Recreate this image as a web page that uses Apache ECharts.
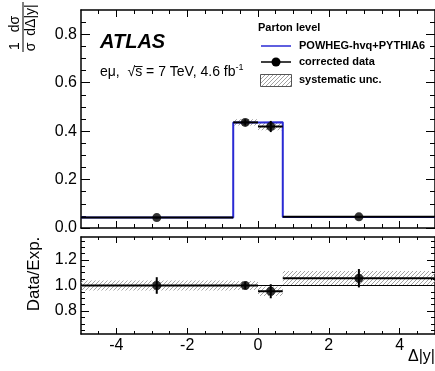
<!DOCTYPE html>
<html><head><meta charset="utf-8">
<script src="https://cdn.jsdelivr.net/npm/echarts@6/dist/echarts.min.js"></script>
<style>html,body{margin:0;padding:0;background:#fff}#c{width:435px;height:371px}</style>
</head><body><div id="c"></div>
<script>
// ---- data ----
const binEdges = [-5, -0.7, 0, 0.7, 5];
const mcValues = [0.043, 0.436, 0.437, 0.045];
const dataX = [-2.86, -0.36, 0.36, 2.85];
const dataValues = [0.043, 0.436, 0.419, 0.046];
const dataStatRel = [0.065, 0.03, 0.055, 0.072];
const dataSystRel = [0.04, 0.03, 0.037, 0.057];
const ratioValues = [1.00, 1.00, 0.955, 1.057];
const ratioStat = [0.065, 0.03, 0.055, 0.072];
const ratioSyst = [0.04, 0.035, 0.037, 0.057];
const ratioRef = 1.0;
// ---- ticks ----
const xMajorTicks = [-4, -2, 0, 2, 4];
const xMinorTicks = [-4.5, -4, -3.5, -3, -2.5, -2, -1.5, -1, -0.5, 0, 0.5, 1, 1.5, 2, 2.5, 3, 3.5, 4, 4.5];
const yTopMajor = [0, 0.2, 0.4, 0.6, 0.8];
const yTopMinor = [0.05, 0.1, 0.15, 0.25, 0.3, 0.35, 0.45, 0.5, 0.55, 0.65, 0.7, 0.75, 0.85];
const yBotMajor = [0.8, 1.0, 1.2];
const yBotMinor = [0.65, 0.7, 0.75, 0.85, 0.9, 0.95, 1.05, 1.1, 1.15, 1.25, 1.3, 1.35];

const FONT = 'Liberation Sans, Arial, Helvetica, sans-serif';
const BLUE = '#2a2ad4';

// hatch pattern
const hc = document.createElement('canvas');
hc.width = 4; hc.height = 4;
const hx = hc.getContext('2d');
hx.strokeStyle = '#a2a2a2'; hx.lineWidth = 1;
hx.beginPath();
hx.moveTo(0, 4); hx.lineTo(4, 0);
hx.moveTo(-1, 1); hx.lineTo(1, -1);
hx.moveTo(3, 5); hx.lineTo(5, 3);
hx.stroke();
const hatch = { image: hc, repeat: 'repeat' };

const chart = echarts.init(document.getElementById('c'));

function xAx(grid, pos, ticks, len, labels, line) {
  return {
    type: 'value', gridIndex: grid, position: pos, min: -5, max: 5,
    axisLine: { show: line, onZero: false, lineStyle: { color: '#000', width: 1.5 } },
    axisTick: { show: true, inside: true, length: len, customValues: ticks, lineStyle: { color: '#000', width: 1 } },
    axisLabel: labels ? { show: true, customValues: xMajorTicks, margin: 4, color: '#000', fontSize: 16, fontFamily: FONT } : { show: false },
    splitLine: { show: false }
  };
}
function yAx(grid, pos, min, max, ticks, len, labels, line) {
  return {
    type: 'value', gridIndex: grid, position: pos, min: min, max: max,
    axisLine: { show: line, onZero: false, lineStyle: { color: '#000', width: 1.5 } },
    axisTick: { show: true, inside: true, length: len, customValues: ticks, lineStyle: { color: '#000', width: 1 } },
    axisLabel: labels ? { show: true, customValues: labels, margin: 4, color: '#000', fontSize: 16, fontFamily: FONT,
      formatter: v => v.toFixed(1) } : { show: false },
    splitLine: { show: false }
  };
}

function bandItems(vals, rel, absScale) {
  return vals.map((v, i) => {
    const h = absScale ? v * rel[i] : rel[i];
    return [binEdges[i], binEdges[i + 1], v - h, v + h];
  });
}
function barItems(xs, vals, err, absScale) {
  return vals.map((v, i) => {
    const e = absScale ? v * err[i] : err[i];
    return [binEdges[i], binEdges[i + 1], xs[i], v, e];
  });
}
function bandRender(params, api) {
  const p0 = api.coord([api.value(0), api.value(3)]);
  const p1 = api.coord([api.value(1), api.value(2)]);
  return { type: 'rect', shape: { x: p0[0], y: p0[1], width: p1[0] - p0[0], height: p1[1] - p0[1] },
    style: { fill: hatch, stroke: null } };
}
function barRender(params, api) {
  const y = api.value(3), e = api.value(4), xc = api.value(2);
  const a = api.coord([api.value(0), y]);
  const b = api.coord([api.value(1), y]);
  const t = api.coord([xc, y + e]);
  const u = api.coord([xc, y - e]);
  return { type: 'group', children: [
    { type: 'line', shape: { x1: a[0], y1: a[1], x2: b[0], y2: b[1] }, style: { stroke: '#000', lineWidth: 2 } },
    { type: 'line', shape: { x1: t[0], y1: t[1], x2: u[0], y2: u[1] }, style: { stroke: '#000', lineWidth: 2 } }
  ] };
}

// MC step points from bins
const mcStep = binEdges.map((e, i) => [e, mcValues[Math.min(i, mcValues.length - 1)]]);

const txt = (x, y, text, size, extra, rot) => ({
  type: 'text', x: x, y: y, rotation: rot || 0,
  style: Object.assign({ text: text, font: size + 'px ' + FONT, fill: '#000',
    textAlign: 'left', textVerticalAlign: 'middle', align: 'left', verticalAlign: 'middle' }, extra || {})
});

const option = {
  animation: false,
  backgroundColor: '#fff',
  grid: [
    { left: 81, top: 10, width: 355, height: 218 },
    { left: 81, top: 237, width: 355, height: 97 }
  ],
  xAxis: [
    xAx(0, 'bottom', xMajorTicks, 7, false, true),
    xAx(0, 'top', xMajorTicks, 7, false, true),
    xAx(0, 'bottom', xMinorTicks, 4, false, false),
    xAx(0, 'top', xMinorTicks, 4, false, false),
    xAx(1, 'bottom', xMajorTicks, 6, true, true),
    xAx(1, 'top', xMajorTicks, 6, false, true),
    xAx(1, 'bottom', xMinorTicks, 3, false, false),
    xAx(1, 'top', xMinorTicks, 3, false, false)
  ],
  yAxis: [
    yAx(0, 'left', 0, 0.9, yTopMajor, 9, yTopMajor, true),
    yAx(0, 'right', 0, 0.9, yTopMajor, 9, null, true),
    yAx(0, 'left', 0, 0.9, yTopMinor, 5, null, false),
    yAx(0, 'right', 0, 0.9, yTopMinor, 5, null, false),
    yAx(1, 'left', 0.62, 1.38, yBotMajor, 8, yBotMajor, true),
    yAx(1, 'right', 0.62, 1.38, yBotMajor, 8, null, true),
    yAx(1, 'left', 0.62, 1.38, yBotMinor, 4, null, false),
    yAx(1, 'right', 0.62, 1.38, yBotMinor, 4, null, false)
  ],
  series: [
    { type: 'custom', xAxisIndex: 0, yAxisIndex: 0, renderItem: bandRender, clip: true, z: 1,
      encode: { x: [0, 1], y: [2, 3] }, data: bandItems(dataValues, dataSystRel, true) },
    { type: 'line', xAxisIndex: 0, yAxisIndex: 0, step: 'end', symbol: 'none', z: 2,
      lineStyle: { color: BLUE, width: 2 }, data: mcStep },
    { type: 'custom', xAxisIndex: 0, yAxisIndex: 0, renderItem: barRender, clip: true, z: 3,
      encode: { x: [0, 1], y: 3 }, data: barItems(dataX, dataValues, dataStatRel, true) },
    { type: 'scatter', xAxisIndex: 0, yAxisIndex: 0, symbol: 'circle', symbolSize: 9, z: 4,
      itemStyle: { color: '#000' }, data: dataX.map((x, i) => [x, dataValues[i]]) },

    { type: 'custom', xAxisIndex: 4, yAxisIndex: 4, renderItem: bandRender, clip: true, z: 1,
      encode: { x: [0, 1], y: [2, 3] }, data: bandItems(ratioValues, ratioSyst, false) },
    { type: 'line', xAxisIndex: 4, yAxisIndex: 4, symbol: 'none', z: 2,
      lineStyle: { color: '#000', width: 1 }, data: [[binEdges[0], ratioRef], [binEdges[binEdges.length - 1], ratioRef]] },
    { type: 'custom', xAxisIndex: 4, yAxisIndex: 4, renderItem: barRender, clip: true, z: 3,
      encode: { x: [0, 1], y: 3 }, data: barItems(dataX, ratioValues, ratioStat, false) },
    { type: 'scatter', xAxisIndex: 4, yAxisIndex: 4, symbol: 'circle', symbolSize: 9, z: 4,
      itemStyle: { color: '#000' }, data: dataX.map((x, i) => [x, ratioValues[i]]) }
  ],
  graphic: [
    { type: 'group', x: 23, y: 27, rotation: Math.PI / 2, children: [
      { type: 'line', shape: { x1: -25, y1: 0, x2: 25, y2: 0 }, style: { stroke: '#000', lineWidth: 1 } },
      txt(-19, -1, '1', 14, { textAlign: 'center', align: 'center', textVerticalAlign: 'bottom', verticalAlign: 'bottom' }),
      txt(3, -1, 'dσ', 14, { textAlign: 'center', align: 'center', textVerticalAlign: 'bottom', verticalAlign: 'bottom' }),
      txt(-20, 1, 'σ', 14, { textAlign: 'center', align: 'center', textVerticalAlign: 'top', verticalAlign: 'top' }),
      txt(7, 1, 'dΔ|y|', 14, { textAlign: 'center', align: 'center', textVerticalAlign: 'top', verticalAlign: 'top' })
    ] },
    txt(34, 274, 'Data/Exp.', 17, { textAlign: 'center', align: 'center' }, Math.PI / 2),
    txt(435, 357, 'Δ|y|', 16, { textAlign: 'right', align: 'right' }),
    txt(100, 42, 'ATLAS', 20, { font: 'italic bold 20px ' + FONT }),
    { type: 'text', x: 100, y: 71, style: {
      text: '{n|eμ,  √s\u0305 = 7 TeV, 4.6 fb}{s|-1}', fill: '#000',
      textVerticalAlign: 'middle', verticalAlign: 'middle',
      rich: { n: { fontSize: 14, fontFamily: FONT, lineHeight: 16, verticalAlign: 'bottom' },
              s: { fontSize: 9, fontFamily: FONT, lineHeight: 16, verticalAlign: 'top' } } } },
    txt(258, 28, 'Parton level', 11, { font: 'bold 11px ' + FONT }),
    { type: 'line', shape: { x1: 261, y1: 46, x2: 291, y2: 46 }, style: { stroke: BLUE, lineWidth: 1.5 } },
    txt(299, 46, 'POWHEG-hvq+PYTHIA6', 11, { font: 'bold 11px ' + FONT }),
    { type: 'line', shape: { x1: 261, y1: 62, x2: 291, y2: 62 }, style: { stroke: '#000', lineWidth: 1.5 } },
    { type: 'circle', shape: { cx: 276, cy: 62, r: 4.5 }, style: { fill: '#000' } },
    txt(299, 62, 'corrected data', 11, { font: 'bold 11px ' + FONT }),
    { type: 'rect', shape: { x: 260.5, y: 74.5, width: 31, height: 12 }, style: { fill: hatch, stroke: '#555', lineWidth: 1 } },
    txt(299, 80, 'systematic unc.', 11, { font: 'bold 11px ' + FONT })
  ]
};
chart.setOption(option);
</script>
</body></html>
